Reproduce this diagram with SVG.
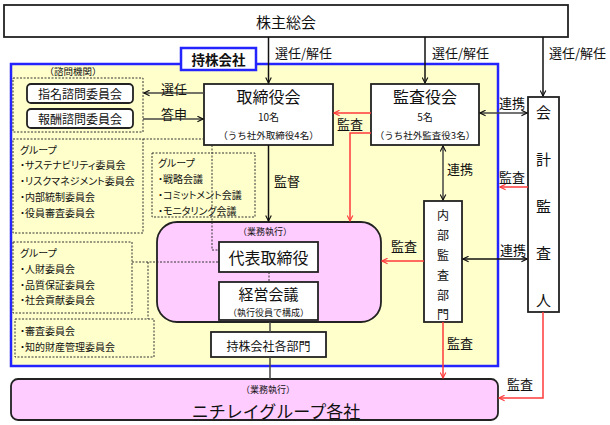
<svg xmlns="http://www.w3.org/2000/svg" width="610" height="425" viewBox="0 0 610 425">
<style>
text{font-family:"Noto Sans CJK JP","Noto Sans",sans-serif;fill:#111;dominant-baseline:central}
.c{text-anchor:middle}
.l{font-size:13px}
.li{font-size:10px;font-feature-settings:"palt"}
.box{fill:#fff;stroke:#222;stroke-width:1.8}
.dbox{fill:#FFFFCC;stroke:#333;stroke-width:1;stroke-dasharray:2,1.5}
.pink{fill:#FFCCFF;stroke:#222;stroke-width:1.8}
.k{stroke:#111;stroke-width:1.5;fill:none}
.g{stroke:#444;stroke-width:1.5;fill:none}
.r{stroke:#FF3B3B;stroke-width:1.5;fill:none}
.d{stroke:#333;stroke-width:1;fill:none;stroke-dasharray:2,1.5}
</style>
<defs>
<marker id="ak" viewBox="0 0 10 10" refX="9" refY="5" markerWidth="7" markerHeight="7" markerUnits="userSpaceOnUse" orient="auto-start-reverse"><path d="M1,1 L9,5 L1,9" fill="none" stroke="#111" stroke-width="1.6"/></marker>
<marker id="ar" viewBox="0 0 10 10" refX="9" refY="5" markerWidth="7" markerHeight="7" markerUnits="userSpaceOnUse" orient="auto-start-reverse"><path d="M1,1 L9,5 L1,9" fill="none" stroke="#FF3B3B" stroke-width="1.6"/></marker>
</defs>

<g id="shareholders">
<rect x="4" y="5" width="564" height="32" class="box"/>
<text x="286" y="21" class="c" style="font-size:15px">株主総会</text>
</g>

<g id="holding-frame">
<rect x="11" y="64" width="487" height="302" fill="#FFFFCC" stroke="#2424FF" stroke-width="2.5"/>
</g>

<g id="holding-label">
<rect x="181" y="48" width="75" height="22" fill="#fff" stroke="#2424FF" stroke-width="2.5"/>
<text x="218.5" y="59" class="c" style="font-size:13.5px;font-weight:bold">持株会社</text>
</g>

<g id="advisory">
<text x="73" y="71" class="c" style="font-size:9.5px">（諮問機関）</text>
<rect x="13" y="78" width="130" height="54" class="dbox"/>
</g>
<g id="nomination">
<rect x="27" y="84" width="106" height="19" rx="4" class="box"/>
<text x="80" y="93.5" class="c" style="font-size:12px">指名諮問委員会</text>
</g>
<g id="remuneration">
<rect x="27" y="109" width="106" height="19" rx="4" class="box"/>
<text x="80" y="118.5" class="c" style="font-size:12px">報酬諮問委員会</text>
</g>

<g id="group1">
<rect x="13" y="139" width="130" height="94" class="dbox"/>
<text x="20" y="149" class="li">グループ</text>
<text x="20" y="164" class="li">・サステナビリティ委員会</text>
<text x="20" y="180" class="li">・リスクマネジメント委員会</text>
<text x="20" y="196" class="li">・内部統制委員会</text>
<text x="20" y="212" class="li">・役員審査委員会</text>
</g>

<g id="group2">
<rect x="152" y="153" width="103" height="64" class="dbox"/>
<text x="158" y="162" class="li">グループ</text>
<text x="158" y="178" class="li">・戦略会議</text>
<text x="158" y="194" class="li">・コミットメント会議</text>
<text x="158" y="210" class="li">・モニタリング会議</text>
</g>

<g id="group3">
<rect x="13" y="242" width="119" height="71" class="dbox"/>
<text x="20" y="252" class="li">グループ</text>
<text x="20" y="268" class="li">・人財委員会</text>
<text x="20" y="284" class="li">・品質保証委員会</text>
<text x="20" y="299" class="li">・社会貢献委員会</text>
</g>

<g id="group4">
<rect x="15" y="319" width="139" height="38" class="dbox"/>
<text x="20" y="330" class="li">・審査委員会</text>
<text x="20" y="346" class="li">・知的財産管理委員会</text>
</g>

<g id="board">
<rect x="204" y="84" width="129" height="61" class="box"/>
<text x="268.5" y="96" class="c" style="font-size:16px">取締役会</text>
<text x="268.5" y="116" class="c" style="font-size:10px">10名</text>
<text x="268.5" y="135" class="c" style="font-size:9.5px">（うち社外取締役4名）</text>
</g>

<g id="auditors">
<rect x="371" y="84" width="108" height="61" class="box"/>
<text x="425" y="96" class="c" style="font-size:16px">監査役会</text>
<text x="425" y="116" class="c" style="font-size:10px">5名</text>
<text x="425" y="135" class="c" style="font-size:9.5px">（うち社外監査役3名）</text>
</g>

<g id="accounting-auditor">
<rect x="528" y="97" width="31" height="215" class="box"/>
<text x="543.5" y="111" class="c" style="font-size:15px">会</text>
<text x="543.5" y="158" class="c" style="font-size:15px">計</text>
<text x="543.5" y="205" class="c" style="font-size:15px">監</text>
<text x="543.5" y="252" class="c" style="font-size:15px">査</text>
<text x="543.5" y="299" class="c" style="font-size:15px">人</text>
</g>

<g id="internal-audit">
<rect x="424" y="201" width="38" height="121" class="box"/>
<text x="443" y="214" class="c" style="font-size:12px">内</text>
<text x="443" y="234" class="c" style="font-size:12px">部</text>
<text x="443" y="254" class="c" style="font-size:12px">監</text>
<text x="443" y="274" class="c" style="font-size:12px">査</text>
<text x="443" y="294" class="c" style="font-size:12px">部</text>
<text x="443" y="313" class="c" style="font-size:12px">門</text>
</g>

<g id="execution">
<rect x="157" y="222" width="224" height="100" rx="20" class="pink"/>
<text x="265" y="231" class="c" style="font-size:9px">（業務執行）</text>
</g>
<g id="representative">
<rect x="219" y="242" width="99" height="30" class="box"/>
<text x="268.5" y="257" class="c" style="font-size:16px">代表取締役</text>
</g>
<g id="management-meeting">
<rect x="219" y="282" width="99" height="38" class="box"/>
<text x="268.5" y="293" class="c" style="font-size:15px">経営会議</text>
<text x="268.5" y="312" class="c" style="font-size:9px">（執行役員で構成）</text>
</g>
<g id="departments">
<rect x="211" y="332" width="115" height="25" class="box"/>
<text x="268.5" y="345" class="c" style="font-size:12px">持株会社各部門</text>
</g>

<g id="group-companies">
<rect x="11" y="379" width="487" height="41" rx="7" class="pink"/>
<text x="268" y="389" class="c" style="font-size:9px">（業務執行）</text>
<text x="276" y="410" class="c" style="font-size:17px">ニチレイグループ各社</text>
</g>

<g id="connectors">
<line x1="268.5" y1="37" x2="268.5" y2="83" class="k" stroke-width="2" marker-end="url(#ak)"/>
<line x1="425" y1="37" x2="425" y2="83" class="k" stroke-width="2" marker-end="url(#ak)"/>
<line x1="543" y1="37" x2="543" y2="96" class="k" stroke-width="2" marker-end="url(#ak)"/>
<line x1="204" y1="93" x2="144" y2="93" class="g" stroke-width="1.2" marker-end="url(#ak)"/>
<line x1="143" y1="119" x2="203" y2="119" class="g" stroke-width="1.2" marker-end="url(#ak)"/>
<line x1="268.5" y1="145" x2="268.5" y2="221" class="k" stroke-width="1.2" marker-end="url(#ak)"/>
<line x1="480" y1="113" x2="527" y2="113" class="g" marker-start="url(#ak)" marker-end="url(#ak)"/>
<line x1="443" y1="146" x2="443" y2="200" class="g" marker-start="url(#ak)" marker-end="url(#ak)"/>
<line x1="463" y1="259" x2="527" y2="259" class="k" stroke-width="1.2" marker-start="url(#ak)" marker-end="url(#ak)"/>
<line x1="270" y1="322" x2="270" y2="332" class="g"/>
<line x1="270" y1="357" x2="270" y2="379" class="g"/>
<polyline points="212,145 212,250 219,250" class="d"/>
<line x1="143" y1="139" x2="204" y2="139" class="d"/>
<line x1="132" y1="262" x2="219" y2="262" class="d"/>
<line x1="148" y1="262" x2="148" y2="319" class="d"/>
<line x1="269" y1="272" x2="269" y2="282" class="d"/>
<line x1="371" y1="113" x2="334" y2="113" class="r" marker-end="url(#ar)"/>
<polyline points="371,133 350,133 350,221" class="r" marker-end="url(#ar)"/>
<line x1="528" y1="187" x2="500" y2="187" class="r" marker-end="url(#ar)"/>
<line x1="424" y1="261" x2="382" y2="261" class="r" marker-end="url(#ar)"/>
<line x1="443" y1="322" x2="443" y2="378" class="r" marker-end="url(#ar)"/>
<polyline points="543,312 543,398 499,398" class="r" marker-end="url(#ar)"/>
</g>

<g id="labels">
<text x="275" y="52" class="l">選任/解任</text>
<text x="432" y="52" class="l">選任/解任</text>
<text x="549" y="52" class="l">選任/解任</text>
<text x="174" y="88" class="l c">選任</text>
<text x="174" y="113" class="l c">答申</text>
<text x="350" y="123" class="l c">監査</text>
<text x="287" y="180" class="l c">監督</text>
<text x="512" y="102" class="l c">連携</text>
<text x="460" y="168" class="l c">連携</text>
<text x="512" y="176" class="l c">監査</text>
<text x="404" y="245" class="l c">監査</text>
<text x="513" y="249" class="l c">連携</text>
<text x="460" y="342" class="l c">監査</text>
<text x="520" y="383" class="l c">監査</text>
</g>
</svg>
